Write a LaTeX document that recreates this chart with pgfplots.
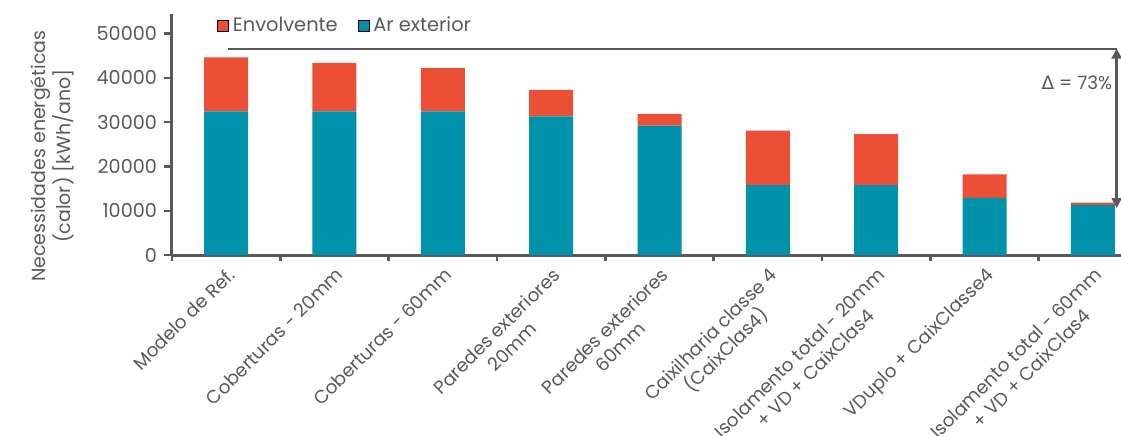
\documentclass[border=0pt]{standalone}
\usepackage{pgfplots}
\pgfplotsset{compat=1.18}
\usepackage{fontspec}
\setmainfont{Poppins}
\newfontfamily\dejavu{DejaVu Sans}
\usetikzlibrary{arrows.meta}
\definecolor{arcol}{HTML}{0091AB}
\definecolor{envcol}{HTML}{EB5037}
\definecolor{axgray}{HTML}{595959}
\pgfplotstableread{
x ar env
0 32400 12200
1 32400 10950
2 32400 9800
3 31300 5950
4 29200 2650
5 15800 12250
6 15800 11500
7 12900 5300
8 11300 500
}\datatable
\begin{document}
\begin{tikzpicture}
\useasboundingbox (-86pt,-90pt) rectangle (474.5pt,127.5pt);
\begin{axis}[
  at={(0,0)}, anchor=south west,
  width=474.5pt, height=120.5pt, scale only axis,
  xmin=-0.5, xmax=8.26, ymin=0, ymax=54400,
  clip=false,
  ybar stacked, bar width=22pt,
  axis x line*=bottom, axis y line*=left,
  axis line style={axgray, line width=1.5pt, -},
  tick align=outside,
  font=\fontsize{9.2}{11}\selectfont,
  scaled y ticks=false,
  /pgf/number format/fixed,
  /pgf/number format/1000 sep={},
  /pgf/number format/assume math mode=true,
  ytick={0,10000,20000,30000,40000,50000},
  ytick style={axgray, line width=1.2pt},
  yticklabel style={font=\fontsize{9.6}{11}\selectfont},
  major tick length=4pt,
  xtick={0,...,8},
  xtick style={draw=none},
  xticklabels={Modelo de Ref.,Coberturas - 20mm,Coberturas - 60mm,Paredes exteriores\\20mm,Paredes exteriores\\60mm,Caixilharia classe 4\\(CaixClas4),Isolamento total - 20mm\\+ VD + CaixClas4,VDuplo + CaixClasse4,Isolamento total - 60mm\\+ VD + CaixClas4},
  xticklabel style={rotate=45, anchor=north east, align=center, inner sep=1pt, yshift=0pt},
  extra x ticks={-0.5,0.5,1.5,2.5,3.5,4.5,5.5,6.5,7.5},
  extra x tick labels={},
  extra x tick style={xtick style={draw=axgray, line width=1.2pt}, major tick length=3pt},
  every tick label/.append style={text=axgray},
  ylabel={Necessidades energéticas\\(calor) [kWh/ano]},
  ylabel style={align=center, text=axgray, font=\fontsize{9.5}{11.5}\selectfont, at={(axis description cs:-0.126,0.41)}, anchor=center},
  legend style={at={(axis description cs:0.041,0.952)}, anchor=west, draw=none, fill=none,
    legend columns=2, text=axgray, font=\fontsize{9.7}{11}\selectfont,
    /tikz/every even column/.append style={column sep=8pt}},
  legend image code/.code={\fill[#1] (0pt,-2.7pt) rectangle (5.4pt,2.7pt);},
]
\addlegendimage{fill=envcol}
\addlegendentry{Envolvente}
\addlegendimage{fill=arcol}
\addlegendentry{Ar exterior}
\addplot[fill=arcol, draw=none] table[x=x, y=ar] {\datatable};
\addplot[fill=envcol, draw=none] table[x=x, y=env] {\datatable};
\draw[axgray, line width=0.6pt] (axis cs:0.02,46500) -- (axis cs:8.22,46500);
\draw[axgray, line width=1.3pt, {Triangle[length=5pt,width=5pt]}-{Triangle[length=5pt,width=5pt]}] (axis cs:8.22,46600) -- (axis cs:8.22,10600);
\node[anchor=east, text=axgray, font=\fontsize{9.2}{11}\selectfont, inner sep=1pt] at (axis cs:8.2,38800) {{\dejavu Δ} = 73\%};
\end{axis}
\end{tikzpicture}
\end{document}
